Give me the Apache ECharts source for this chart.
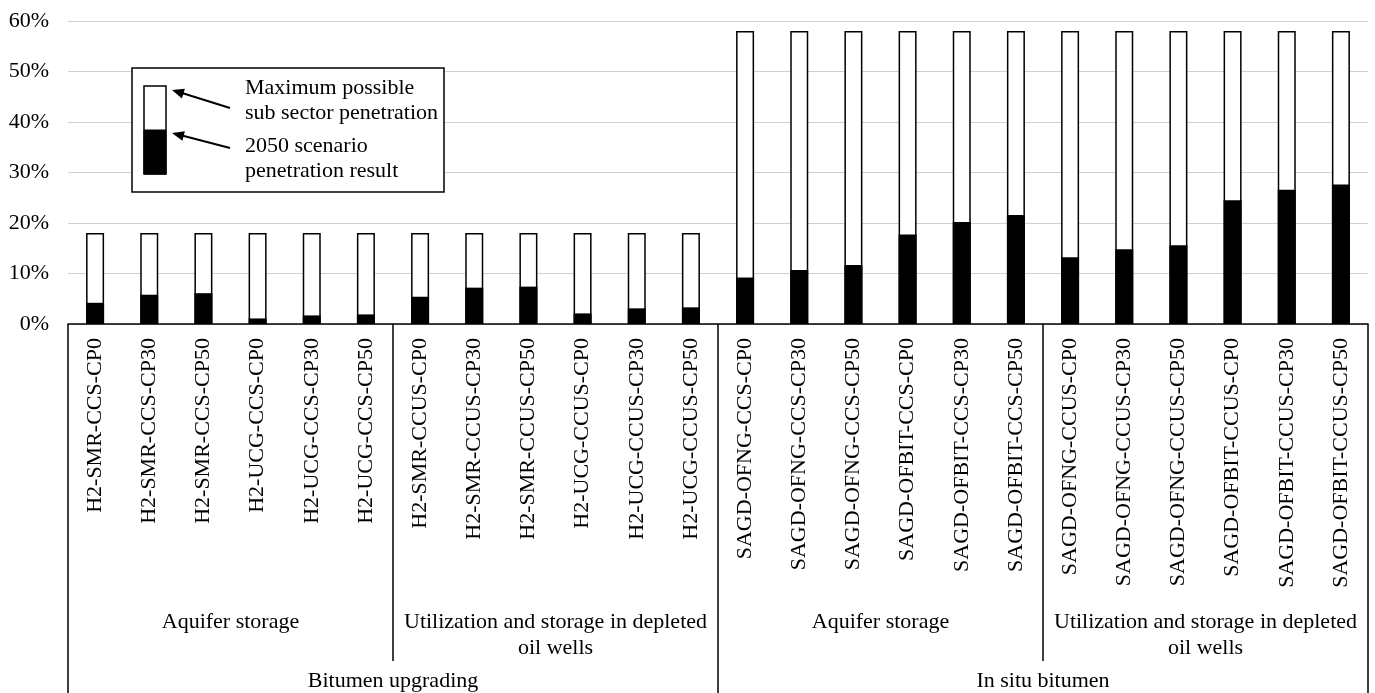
<!DOCTYPE html>
<html>
<head>
<meta charset="utf-8">
<script src="https://cdn.jsdelivr.net/npm/echarts@6/dist/echarts.min.js"></script>
<style>
html,body{margin:0;padding:0;background:#fff;}
#chart{width:1375px;height:693px;}
</style>
</head>
<body>
<div id="chart"></div>
<script>
const categories = [
  'H2-SMR-CCS-CP0','H2-SMR-CCS-CP30','H2-SMR-CCS-CP50','H2-UCG-CCS-CP0','H2-UCG-CCS-CP30','H2-UCG-CCS-CP50',
  'H2-SMR-CCUS-CP0','H2-SMR-CCUS-CP30','H2-SMR-CCUS-CP50','H2-UCG-CCUS-CP0','H2-UCG-CCUS-CP30','H2-UCG-CCUS-CP50',
  'SAGD-OFNG-CCS-CP0','SAGD-OFNG-CCS-CP30','SAGD-OFNG-CCS-CP50','SAGD-OFBIT-CCS-CP0','SAGD-OFBIT-CCS-CP30','SAGD-OFBIT-CCS-CP50',
  'SAGD-OFNG-CCUS-CP0','SAGD-OFNG-CCUS-CP30','SAGD-OFNG-CCUS-CP50','SAGD-OFBIT-CCUS-CP0','SAGD-OFBIT-CCUS-CP30','SAGD-OFBIT-CCUS-CP50'
];
const maxPenetration = [
  18,18,18,18,18,18,
  18,18,18,18,18,18,
  58,58,58,58,58,58,
  58,58,58,58,58,58
];
const scenarioResult = [
  4.2,5.8,6.1,1.1,1.7,1.9,
  5.4,7.2,7.4,2.1,3.1,3.3,
  9.2,10.7,11.7,17.7,20.2,21.6,
  13.2,14.8,15.6,24.5,26.6,27.6
];
const subgroupLabels = ['Aquifer storage','Utilization and storage in depleted\noil wells','Aquifer storage','Utilization and storage in depleted\noil wells'];
const groupLabels = ['Bitumen upgrading','In situ bitumen'];
const legendLines = ['Maximum possible','sub sector penetration','2050 scenario','penetration result'];

const FONT = "'Liberation Serif','Times New Roman',serif";
const chart = echarts.init(document.getElementById('chart'), null, {renderer:'canvas'});

const option = {
  animation: false,
  backgroundColor: '#ffffff',
  grid: {left: 68, right: 7, top: 21, bottom: 369, outerBoundsMode: 'none'},
  xAxis: [
    {
      type: 'category', data: categories, position: 'bottom',
      axisLine: {show: true, lineStyle: {color: '#000', width: 1.5}},
      axisTick: {show: false},
      axisLabel: {interval: 0, rotate: 90, margin: 14, fontSize: 22, fontFamily: FONT, color: '#000'}
    },
    {
      type: 'category', data: subgroupLabels, position: 'bottom', offset: 337,
      axisLine: {show: false},
      axisTick: {show: true, inside: true, length: 337, interval: 0, lineStyle: {color: '#000', width: 1.5}},
      axisLabel: {interval: 0, inside: true, margin: 52, verticalAlign: 'top', lineHeight: 26, fontSize: 22, fontFamily: FONT, color: '#000', align: 'center'}
    },
    {
      type: 'category', data: groupLabels, position: 'bottom', offset: 369,
      axisLine: {show: false},
      axisTick: {show: true, inside: true, length: 369, interval: 0, lineStyle: {color: '#000', width: 1.5}},
      axisLabel: {interval: 0, inside: true, margin: 12, verticalAlign: 'middle', fontSize: 22, fontFamily: FONT, color: '#000'}
    }
  ],
  yAxis: {
    type: 'value', min: 0, max: 60, interval: 10,
    axisLine: {show: false}, axisTick: {show: false},
    axisLabel: {formatter: '{value}%', margin: 19, fontSize: 22, fontFamily: FONT, color: '#000'},
    splitLine: {lineStyle: {color: '#d0d0d0', width: 1.2}}
  },
  series: [
    {
      name: 'Maximum possible sub sector penetration', type: 'bar', xAxisIndex: 0,
      data: maxPenetration, barWidth: 18, barGap: '-100%',
      itemStyle: {color: '#ffffff', borderColor: '#000', borderWidth: 1.5}
    },
    {
      name: '2050 scenario penetration result', type: 'bar', xAxisIndex: 0,
      data: scenarioResult, barWidth: 18, barGap: '-100%',
      itemStyle: {color: '#000000'}
    }
  ],
  graphic: [
    {type: 'rect', z: 100, shape: {x: 132, y: 68, width: 312, height: 124}, style: {fill: '#fff', stroke: '#000', lineWidth: 1.5}},
    {type: 'rect', z: 101, shape: {x: 144, y: 86, width: 22, height: 88}, style: {fill: '#fff', stroke: '#000', lineWidth: 1.5}},
    {type: 'rect', z: 102, shape: {x: 144, y: 130, width: 22, height: 44}, style: {fill: '#000', stroke: '#000', lineWidth: 1}},
    {type: 'line', z: 101, shape: {x1: 230, y1: 108, x2: 182, y2: 93}, style: {stroke: '#000', lineWidth: 2}},
    {type: 'polygon', z: 101, shape: {points: [[172,90],[184.9,88.8],[181.9,98.4]]}, style: {fill: '#000'}},
    {type: 'line', z: 101, shape: {x1: 230, y1: 148, x2: 182, y2: 135.5}, style: {stroke: '#000', lineWidth: 2}},
    {type: 'polygon', z: 101, shape: {points: [[172,133],[184.9,131.2],[182.4,140.8]]}, style: {fill: '#000'}},
    {type: 'text', z: 101, x: 245, y: 88, style: {text: legendLines[0], font: '22px ' + FONT, fill: '#000', verticalAlign: 'middle'}},
    {type: 'text', z: 101, x: 245, y: 113, style: {text: legendLines[1], font: '22px ' + FONT, fill: '#000', verticalAlign: 'middle'}},
    {type: 'text', z: 101, x: 245, y: 146, style: {text: legendLines[2], font: '22px ' + FONT, fill: '#000', verticalAlign: 'middle'}},
    {type: 'text', z: 101, x: 245, y: 171, style: {text: legendLines[3], font: '22px ' + FONT, fill: '#000', verticalAlign: 'middle'}}
  ]
};
chart.setOption(option);
</script>
</body>
</html>
